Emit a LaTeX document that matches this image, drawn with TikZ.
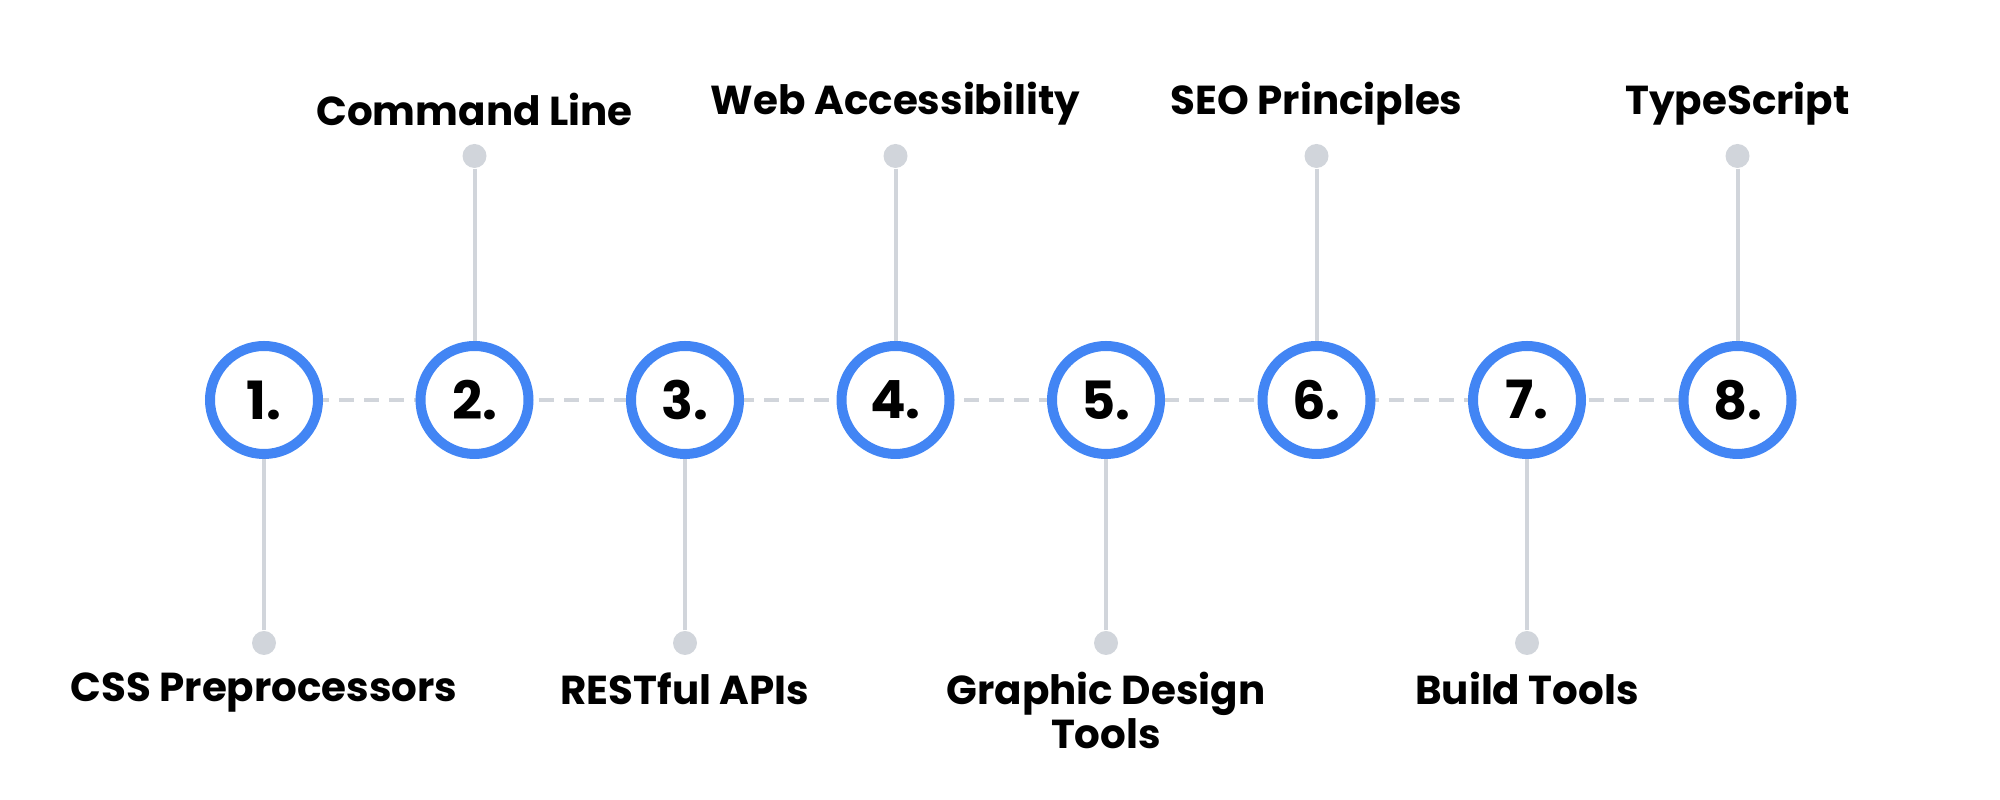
\documentclass[tikz,border=0pt]{standalone}
\usepackage{fontspec}
\setmainfont{Poppins}
\usetikzlibrary{positioning}
\definecolor{ringblue}{HTML}{4285F4}
\definecolor{stemgray}{HTML}{D1D5DB}

\begin{document}
\begin{tikzpicture}[
  every node/.style={font=\bfseries},
  ring/.style={circle, draw=ringblue, line width=0.1cm, fill=white, minimum size=1.08cm, inner sep=0pt, font=\bfseries\fontsize{15}{17}\selectfont},
  stem/.style={draw=stemgray, line width=0.04cm},
  dot/.style={circle, fill=stemgray, minimum size=0.24cm, inner sep=0pt},
  label/.style={align=center, font=\bfseries\fontsize{11.5}{12.5}\selectfont}
]
\useasboundingbox (0,0) rectangle (20,8);

% Dashed timeline
\draw[stemgray, line width=0.035cm, dash pattern=on 0.15cm off 0.1cm] (2.64,4.0) -- (17.35,4.0);

% Circles
\foreach \i in {1,...,8} {
  \node[ring] (c\i) at ({2.64+(\i-1)*2.105},4.0) {\i.};
}

% Upper labels
\foreach \i/\txt in {2/Command Line, 4/Web Accessibility, 6/SEO Principles, 8/TypeScript} {
  \node[dot] (d\i) at ({2.64+(\i-1)*2.105},6.44) {};
  \draw[stem] (d\i) -- (c\i);
  \node[label, anchor=south] (t\i) at ({2.64+(\i-1)*2.105},6.62) {\txt};
}

% Lower labels
\foreach \i/\txt in {1/CSS Preprocessors, 3/RESTful APIs, 5/Graphic Design\\Tools, 7/Build Tools} {
  \node[dot] (d\i) at ({2.64+(\i-1)*2.105},1.57) {};
  \draw[stem] (d\i) -- (c\i);
  \node[label, anchor=north] (t\i) at ({2.64+(\i-1)*2.105},1.40) {\txt};
}

\end{tikzpicture}
\end{document}
